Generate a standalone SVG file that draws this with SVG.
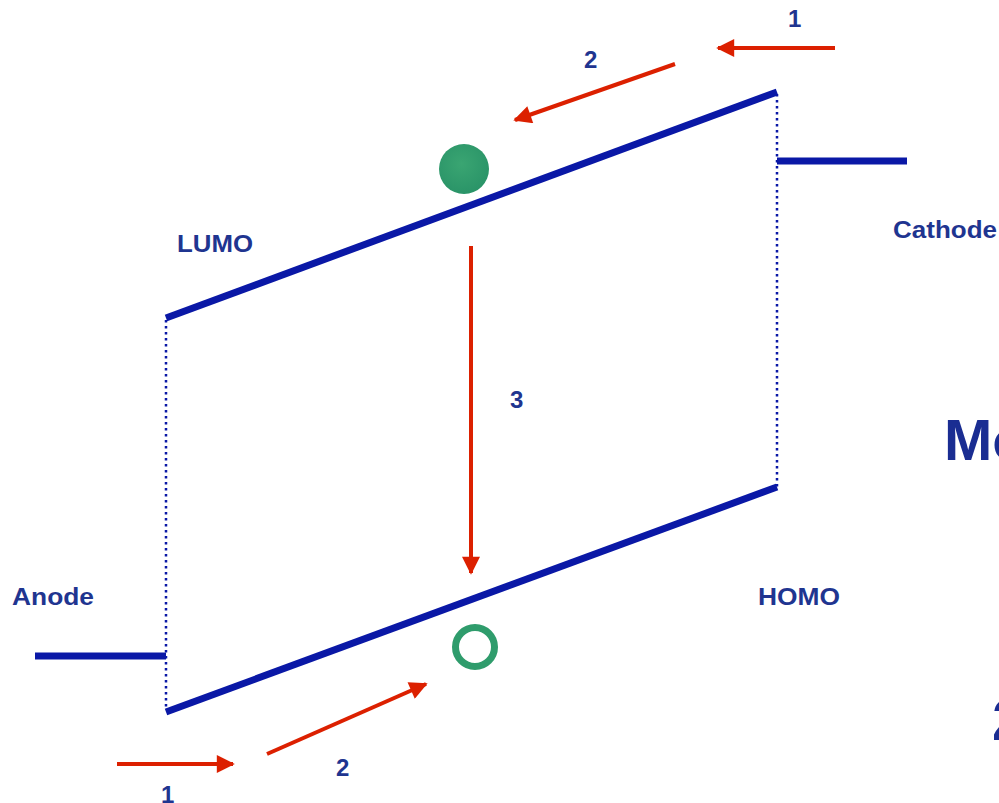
<svg xmlns="http://www.w3.org/2000/svg" width="999" height="803" viewBox="0 0 999 803">
<defs>
<style>
.lvl{stroke:#0a18a6;stroke-width:7;fill:none;stroke-linecap:butt}
.dot{stroke:#0a18a6;stroke-width:2.5;fill:none;stroke-dasharray:2.5 3.5}
.arr{stroke:#dc2000;stroke-width:4;fill:none}
.lbl{font-family:"Liberation Sans",Arial,sans-serif;font-weight:bold;fill:#1f3590;font-size:24px}
.big{font-family:"Liberation Sans",Arial,sans-serif;font-weight:bold;fill:#1a2d92;font-size:58px}
</style>
<marker id="ah" viewBox="0 0 10 10" refX="9" refY="5" markerWidth="5" markerHeight="4.5" orient="auto" markerUnits="strokeWidth">
<path d="M0,0 L10,5 L0,10 Z" fill="#dc2000"/>
</marker>
<radialGradient id="g1" cx="0.45" cy="0.4" r="0.6">
<stop offset="0" stop-color="#3aa572"/>
<stop offset="1" stop-color="#2a9468"/>
</radialGradient>
</defs>
<rect width="999" height="803" fill="#ffffff"/>
<g id="levels">
<line class="lvl" x1="166" y1="318" x2="777" y2="92"/>
<line class="lvl" x1="166" y1="712" x2="777" y2="487"/>
<line class="dot" x1="166" y1="320" x2="166" y2="710"/>
<line class="dot" x1="777" y1="94" x2="777" y2="487"/>
</g>
<g id="cathode">
<line class="lvl" x1="777" y1="161" x2="907" y2="161" stroke-width="6"/>
<text class="lbl" x="893" y="238" textLength="104" lengthAdjust="spacingAndGlyphs">Cathode</text>
</g>
<g id="anode">
<line class="lvl" x1="35" y1="656" x2="166" y2="656" stroke-width="6"/>
<text class="lbl" x="12" y="605" textLength="82" lengthAdjust="spacingAndGlyphs">Anode</text>
</g>
<g id="lumo"><text class="lbl" x="177" y="252" textLength="76" lengthAdjust="spacingAndGlyphs">LUMO</text></g>
<g id="homo"><text class="lbl" x="758" y="605" textLength="82" lengthAdjust="spacingAndGlyphs">HOMO</text></g>
<g id="electron"><circle cx="464" cy="169" r="25" fill="url(#g1)"/></g>
<g id="hole"><circle cx="475" cy="647" r="19.5" fill="none" stroke="#2f9c6c" stroke-width="7"/></g>
<g id="connectors">
<line class="arr" x1="835" y1="48" x2="718" y2="48" marker-end="url(#ah)"/>
<line class="arr" x1="675" y1="64" x2="515" y2="120" marker-end="url(#ah)"/>
<line class="arr" x1="471" y1="246" x2="471" y2="573" marker-end="url(#ah)"/>
<line class="arr" x1="117" y1="764" x2="233" y2="764" marker-end="url(#ah)"/>
<line class="arr" x1="267" y1="754" x2="426" y2="684" marker-end="url(#ah)"/>
</g>
<g id="numbers">
<text class="lbl" x="788" y="27">1</text>
<text class="lbl" x="584" y="68">2</text>
<text class="lbl" x="510" y="408">3</text>
<text class="lbl" x="161" y="803">1</text>
<text class="lbl" x="336" y="776">2</text>
</g>
<g id="cut-text">
<text class="big" x="944" y="460">Mo</text>
<text class="big" x="992" y="740">2</text>
</g>
</svg>
